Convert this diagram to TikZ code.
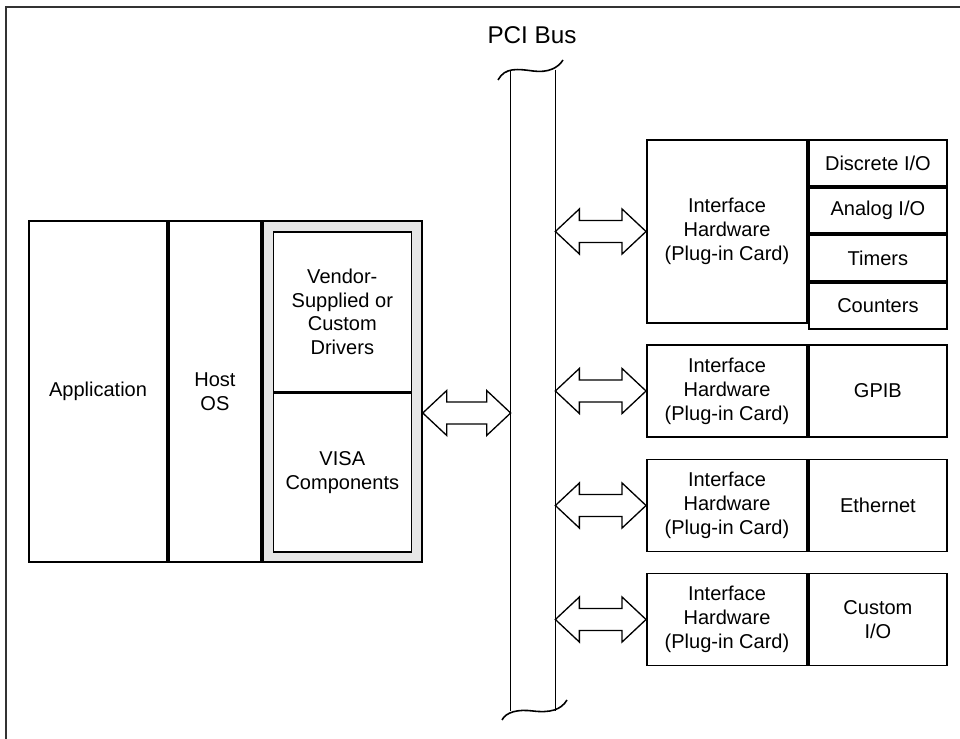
\documentclass[tikz,border=0pt]{standalone}
\usepackage{fontspec}
\setmainfont{Liberation Sans}
\usepackage{tikz}
\usetikzlibrary{positioning, calc}
\usepackage{xcolor}
\definecolor{busgray}{HTML}{E6E6E6}
\definecolor{framegray}{HTML}{333333}

% hollow double-headed arrow between two points (height taken from the first)
\newcommand{\busarrow}[2]{%
  \draw[fatarrow] let \p1=(#1), \p2=(#2) in
    (\x1,\y1) -- (\x1+0.48cm,\y1+0.45cm) -- (\x1+0.48cm,\y1+0.22cm)
    -- (\x2-0.48cm,\y1+0.22cm) -- (\x2-0.48cm,\y1+0.45cm) -- (\x2,\y1)
    -- (\x2-0.48cm,\y1-0.45cm) -- (\x2-0.48cm,\y1-0.22cm)
    -- (\x1+0.48cm,\y1-0.22cm) -- (\x1+0.48cm,\y1-0.45cm) -- cycle;}

\begin{document}
\begin{tikzpicture}[x=0.02cm, y=-0.02cm,
      blk/.style={draw, line width=1.1pt, align=center, inner sep=2pt,
                  minimum height=6.82cm,
                  font=\fontsize{11.4}{13.6}\selectfont},
      inbox/.style={draw, line width=0.85pt, fill=white, align=center,
                    minimum width=2.76cm,
                    font=\fontsize{11.4}{13.6}\selectfont},
      card/.style={blk, minimum width=3.2cm, minimum height=1.84cm},
      side/.style={blk, minimum width=2.76cm, minimum height=1.84cm},
      cell/.style={blk, minimum width=2.76cm, minimum height=0.915cm},
      fatarrow/.style={draw, line width=0.75pt, fill=white},
      busline/.style={line width=0.9pt}
    ]
    \useasboundingbox (0,0) rectangle (960,739);
    \draw[framegray, line width=0.9pt] (6,739) -- (6,7) -- (960,7);

    % host computer side
    \node[blk, minimum width=2.76cm] (app) at (98,391.5) {Application};
    \node[blk, minimum width=1.84cm, right=0pt of app] (os) {Host\\OS};
    \node[blk, minimum width=3.18cm, fill=busgray, right=0pt of os] (drv) {};
    \node[inbox, minimum height=3.2cm, anchor=north]
      (vend) at ([yshift=-0.22cm]drv.north) {Vendor-\\Supplied or\\Custom\\Drivers};
    \node[inbox, minimum height=3.18cm, below=0pt of vend]
      (visa) {VISA\\Components};

    % the bus
    \node[minimum width=0.88cm, minimum height=12.82cm, inner sep=0pt]
      (bus) at (533,390.5) {};
    \node[font=\fontsize{13.8}{16}\selectfont] (pci) at (532,35) {PCI Bus};
    \draw[busline] (bus.north west) -- (bus.south west)
                   (bus.north east) -- (bus.south east);
    \draw[busline] (498,80) .. controls (505,67) and (518,69) .. (533,71)
                   .. controls (548,73) and (558,68) .. (563,60);
    \draw[busline] (502,720) .. controls (506,712) and (518,709) .. (533,711)
                   .. controls (550,713) and (561,710) .. (567,700);

    % plug-in cards
    \node[card, minimum height=3.66cm] (card1) at (727,231.5)
      {Interface\\Hardware\\(Plug-in Card)};
    \node[cell, anchor=north west] (dio) at (card1.north east) {Discrete I/O};
    \node[cell, below=0pt of dio] (aio) {Analog I/O};
    \node[cell, below=0pt of aio] (tmr) {Timers};
    \node[cell, below=0pt of tmr] (cnt) {Counters};

    \node[card] (card2) at (727,391) {Interface\\Hardware\\(Plug-in Card)};
    \node[side, right=0pt of card2] (gpib) {GPIB};
    \node[card] (card3) at (727,505.5) {Interface\\Hardware\\(Plug-in Card)};
    \node[side, right=0pt of card3] (eth) {Ethernet};
    \node[card] (card4) at (727,619.5) {Interface\\Hardware\\(Plug-in Card)};
    \node[side, right=0pt of card4] (cio) {Custom\\I/O};

    % links to the bus
    \coordinate (drvport) at ([yshift=-0.43cm]drv.east);
    \busarrow{drvport}{bus.west |- drvport}
    \busarrow{bus.east |- card1.west}{card1.west}
    \busarrow{bus.east |- card2.west}{card2.west}
    \busarrow{bus.east |- card3.west}{card3.west}
    \busarrow{bus.east |- card4.west}{card4.west}
  \end{tikzpicture}
\end{document}
